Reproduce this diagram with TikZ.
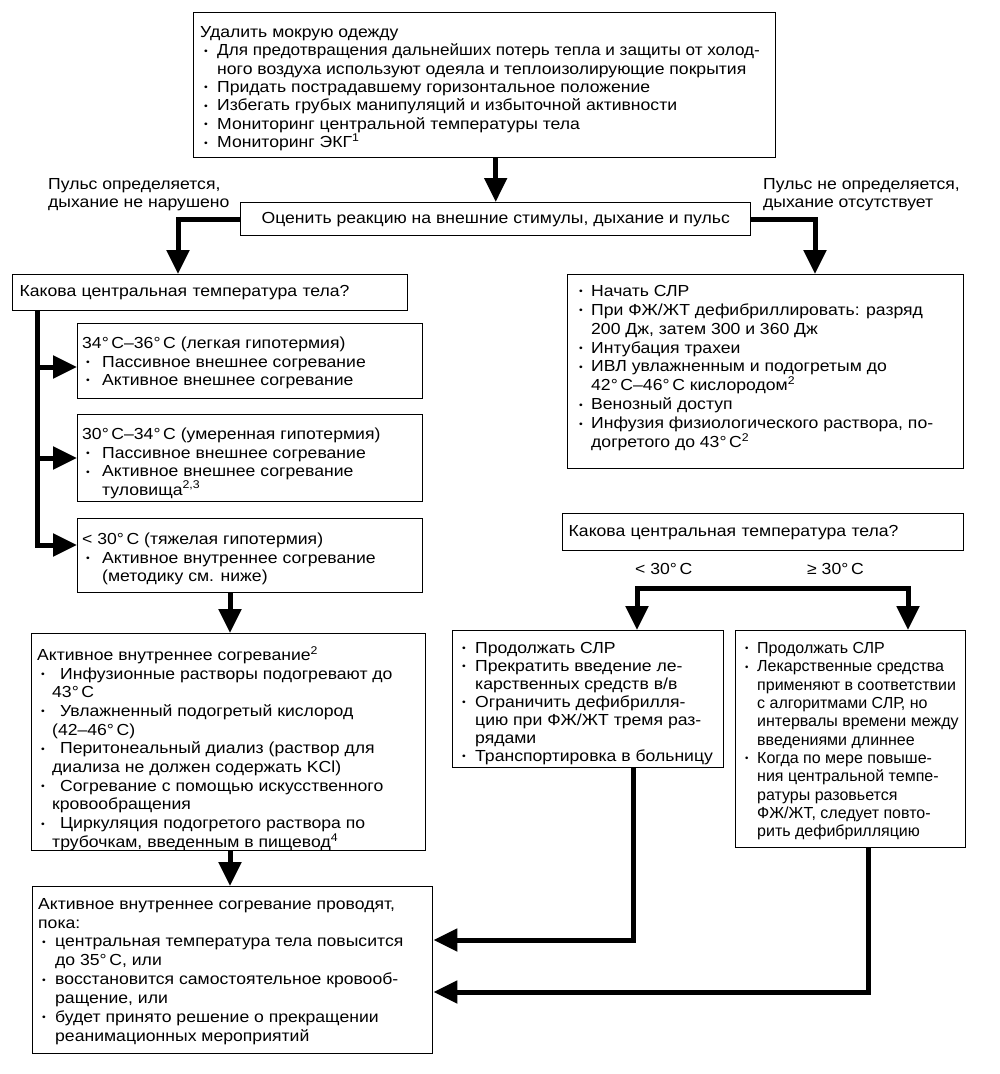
\documentclass[tikz,border=0pt]{standalone}
\usepackage{fontspec}
\setmainfont{Liberation Sans}[FakeStretch=1.1]
\newfontfamily\narrowsf{Liberation Sans}[FakeStretch=1.0]
\newfontfamily\semisf{Liberation Sans}[FakeStretch=1.07]
\usetikzlibrary{arrows.meta}
\newcommand\st{\rule[-5pt]{0pt}{13pt}}
\newcommand\bu[1][16pt]{\makebox[#1][l]{\hspace{4pt}\raisebox{1.6pt}{\scalebox{0.6}{\textbullet}}}}
\newcommand\ci[1][16pt]{\hspace*{#1}}
\newcommand\dg{°\,}
\begin{document}
\begin{tikzpicture}[x=1pt,y=-1pt,
  bx/.style={draw, line width=1.4pt, inner sep=0pt, anchor=north west, font=\fontsize{16}{18.4}\selectfont},
  tx/.style={inner sep=0pt, anchor=north west, align=left, font=\fontsize{16}{#1}\selectfont},
  tx/.default=18.4,
  thk/.style={line width=5pt},
  conn/.style={line width=5pt, -{Triangle[width=22pt,length=24pt]}},
]
\useasboundingbox (0,0) rectangle (1000,1074);
\fill[white] (0,0) rectangle (1000,1074);

% ---------- boxes ----------
\node[bx, minimum width=582pt, minimum height=145pt] (top) at (193,12) {};
\node[bx, minimum width=510pt, minimum height=33pt] (eval) at (240,202) {Оценить реакцию на внешние стимулы, дыхание и пульс};
\node[bx, minimum height=36pt, text width=381pt, inner xsep=7pt, align=left] (kl) at (12,274) {Какова центральная температура тела?};
\node[bx, minimum width=345pt, minimum height=75pt] (b1) at (77,323) {};
\node[bx, minimum width=345pt, minimum height=87pt] (b2) at (77,414) {};
\node[bx, minimum width=345pt, minimum height=74pt] (b3) at (77,518) {};
\node[bx, minimum width=394pt, minimum height=217pt] (act) at (31,633) {};
\node[bx, minimum width=400pt, minimum height=167pt] (fin) at (32,886) {};
\node[bx, minimum width=396pt, minimum height=194pt] (cpr) at (567,274) {};
\node[bx, minimum height=37pt, text width=389pt, inner xsep=6pt, align=left] (kr) at (562,513) {Какова центральная температура тела?};
\node[bx, minimum width=271pt, minimum height=137pt] (c1) at (452,630) {};
\node[bx, minimum width=230pt, minimum height=217pt] (c2) at (735,630) {};

% ---------- texts ----------
\node[tx=18.4] (topt) at (200,26) {\st Удалить мокрую одежду\\
\bu[17pt]{\semisf Для предотвращения дальнейших потерь тепла и защиты от холод-}\\
\ci[17pt]ного воздуха используют одеяла и теплоизолирующие покрытия\\
\bu[17pt]Придать пострадавшему горизонтальное положение\\
\bu[17pt]Избегать грубых манипуляций и избыточной активности\\
\bu[17pt]Мониторинг центральной температуры тела\\
\bu[17pt]Мониторинг ЭКГ\textsuperscript{1}};

\node[tx=18] (ll) at (48,178) {\st Пульс определяется,\\дыхание не нарушено};
\node[tx=18] (rl) at (763,178) {\st Пульс не определяется,\\дыхание отсутствует};

\node[tx] (b1t) at (82,337) {\st 34\dg C–36\dg C (легкая гипотермия)\\
\bu[20pt]Пассивное внешнее согревание\\
\bu[20pt]Активное внешнее согревание};
\node[tx] (b2t) at (82,428) {\st 30\dg C–34\dg C (умеренная гипотермия)\\
\bu[20pt]Пассивное внешнее согревание\\
\bu[20pt]Активное внешнее согревание\\
\ci[20pt]туловища\textsuperscript{2,3}};
\node[tx] (b3t) at (82,533) {\st < 30\dg C (тяжелая гипотермия)\\
\bu[20pt]Активное внутреннее согревание\\
\ci[20pt](методику см. ниже)};

\node[tx=18.7] (actt) at (37,646) {\st Активное внутреннее согревание\textsuperscript{2}\\
\bu[23pt]Инфузионные растворы подогревают до\\
\ci[15pt]43\dg C\\
\bu[23pt]Увлажненный подогретый кислород\\
\ci[15pt](42–46\dg C)\\
\bu[23pt]Перитонеальный диализ (раствор для\\
\ci[15pt]диализа не должен содержать KCl)\\
\bu[23pt]Согревание с помощью искусственного\\
\ci[15pt]кровообращения\\
\bu[23pt]Циркуляция подогретого раствора по\\
\ci[15pt]трубочкам, введенным в пищевод\textsuperscript{4}};

\node[tx=18.86] (fint) at (38,898) {\st Активное внутреннее согревание проводят,\\
пока:\\
\bu[17pt]центральная температура тела повысится\\
\ci[17pt]до 35\dg C, или\\
\bu[17pt]восстановится самостоятельное кровооб-\\
\ci[17pt]ращение, или\\
\bu[17pt]будет принято решение о прекращении\\
\ci[17pt]реанимационных мероприятий};

\node[tx=18.9] (cprt) at (575,285) {\st\bu Начать СЛР\\
\bu При ФЖ/ЖТ дефибриллировать: разряд\\
\ci 200 Дж, затем 300 и 360 Дж\\
\bu Интубация трахеи\\
\bu ИВЛ увлажненным и подогретым до\\
\ci 42\dg C–46\dg C кислородом\textsuperscript{2}\\
\bu Венозный доступ\\
\bu Инфузия физиологического раствора, по-\\
\ci догретого до 43\dg C\textsuperscript{2}};

\node[tx] (lt) at (635,563) {\st < 30\dg C};
\node[tx] (ge) at (807,563) {\st ≥ 30\dg C};

\node[tx=18] (c1t) at (458,642) {\st\bu[17pt]Продолжать СЛР\\
\bu[17pt]Прекратить введение ле-\\
\ci[17pt]карственных средств в/в\\
\bu[17pt]Ограничить дефибрилля-\\
\ci[17pt]цию при ФЖ/ЖТ тремя раз-\\
\ci[17pt]рядами\\
\bu[17pt]Транспортировка в больницу};

\node[tx=18.35, font=\fontsize{16}{18.35}\selectfont\narrowsf] (c2t) at (741,642) {\st\bu Продолжать СЛР\\
\bu Лекарственные средства\\
\ci применяют в соответствии\\
\ci с алгоритмами СЛР, но\\
\ci интервалы времени между\\
\ci введениями длиннее\\
\bu Когда по мере повыше-\\
\ci ния центральной темпе-\\
\ci ратуры разовьется\\
\ci ФЖ/ЖТ, следует повто-\\
\ci рить дефибрилляцию};

% ---------- connectors ----------
\draw[conn] (eval.north |- top.south) -- (eval.north);
\coordinate (lb) at (178,274);
\coordinate (rb) at (815,274);
\draw[conn] (eval.west) -| (lb);
\draw[conn] (eval.east) -| (rb);

\coordinate (a1) at (37,367);
\coordinate (a2) at (37,458);
\coordinate (a3) at (37,545);
\draw[conn] (kl.south -| a1) -- (a3) -- (a3 -| b3.west);
\draw[conn] (a1) -- (a1 -| b1.west);
\draw[conn] (a2) -- (a2 -| b2.west);

\coordinate (dx) at (230,0);
\draw[conn] (b3.south -| dx) -- (act.north -| dx);
\draw[conn] (act.south -| dx) -- (fin.north -| dx);

\coordinate (sl) at (637,588);
\coordinate (sr) at (908,588);
\draw[line width=5pt, {Triangle[width=22pt,length=24pt]}-{Triangle[width=22pt,length=24pt]}]
  (sl |- c1.north) -- (sl) -- (sr) -- (sr |- c2.north);

\coordinate (v1) at (633,940);
\coordinate (v2) at (868,992);
\draw[conn] (c1.south -| v1) -- (v1) -- (v1 -| fin.east);
\draw[conn] (c2.south -| v2) -- (v2) -- (v2 -| fin.east);
\end{tikzpicture}
\end{document}
